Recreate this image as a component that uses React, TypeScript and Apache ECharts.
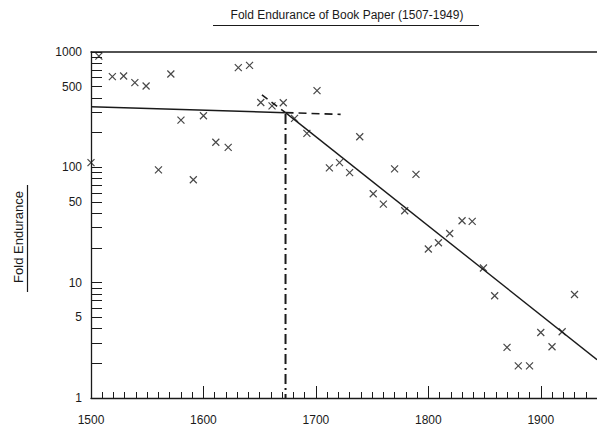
import React, { useEffect, useRef } from "react";
import * as echarts from "echarts";

const TITLE = "Fold Endurance of Book Paper (1507-1949)";
const Y_NAME = "Fold Endurance";

const X_LABELS = [1500, 1600, 1700, 1800, 1900];
const X_MAJOR_TICKS = [1500, 1600, 1700, 1800, 1900];
const X_MINOR_TICKS = [
  1510, 1520, 1530, 1540, 1550, 1560, 1570, 1580, 1590,
  1610, 1620, 1630, 1640, 1650, 1660, 1670, 1680, 1690,
  1710, 1720, 1730, 1740, 1750, 1760, 1770, 1780, 1790,
  1810, 1820, 1830, 1840, 1850, 1860, 1870, 1880, 1890,
  1910, 1920, 1930, 1940,
];
const Y_LABELS = [1, 5, 10, 50, 100, 500, 1000];
const Y_TICKS = [
  1, 2, 3, 4, 5, 6, 7, 8, 9,
  10, 20, 30, 40, 50, 60, 70, 80, 90,
  100, 200, 300, 400, 500, 600, 700, 800, 900, 1000,
];

// [year, fold endurance]
const SAMPLES: [number, number][] = [
  [1500, 110], [1507, 920], [1519, 611], [1529, 619], [1539, 542],
  [1549, 507], [1560, 95], [1571, 644], [1580, 257], [1591, 78],
  [1600, 280], [1611, 165], [1622, 149], [1631, 731], [1641, 766],
  [1651, 365], [1661, 341], [1671, 363], [1681, 266], [1692, 197],
  [1701, 462], [1712, 99], [1721, 110], [1730, 90], [1739, 184],
  [1751, 59], [1760, 48], [1770, 97], [1779, 42], [1789, 87],
  [1800, 19.6], [1809, 22.2], [1819, 26.7], [1830, 34.4], [1839, 34],
  [1849, 13.4], [1859, 7.7], [1870, 2.75], [1880, 1.9], [1890, 1.9],
  [1900, 3.7], [1910, 2.78], [1919, 3.75], [1930, 7.9],
];

const EARLY_TREND: [number, number][] = [[1500, 336], [1673, 298]];
const EARLY_EXTENSION: [number, number][] = [[1673, 298], [1722, 288]];
const LATE_EXTENSION: [number, number][] = [[1652, 424], [1673, 298]];
const LATE_TREND: [number, number][] = [[1673, 298], [1950, 2.15]];
const BREAK_LINE: [number, number][] = [[1673, 290], [1673, 1]];

const INK = "#1a1a1a";
const FONT = "Liberation Sans, Arial, sans-serif";

export default function App() {
  const ref = useRef<HTMLDivElement>(null);

  useEffect(() => {
    if (!ref.current) return;
    const chart = echarts.init(ref.current, undefined, { renderer: "svg" });
    const lineSeries = (data: [number, number][], type: any, width: number) => ({
      type: "line",
      data,
      xAxisIndex: 0,
      yAxisIndex: 0,
      symbol: "none",
      silent: true,
      lineStyle: { color: INK, width, type },
    });
    chart.setOption({
      animation: false,
      backgroundColor: "#fff",
      textStyle: { fontFamily: FONT, color: INK },
      grid: { left: 91, right: 0, top: 52, bottom: 32, containLabel: false },
      xAxis: [
        {
          type: "value",
          position: "bottom",
          min: 1500,
          max: 1950,
          interval: 50,
          axisLine: { show: true, lineStyle: { color: INK, width: 1.3 } },
          axisTick: {
            show: true,
            inside: true,
            length: 12,
            customValues: X_MAJOR_TICKS,
            lineStyle: { color: INK, width: 1 },
          },
          axisLabel: {
            customValues: X_LABELS,
            formatter: (v: number) => String(v),
            margin: 16,
            fontSize: 12,
            color: INK,
            fontFamily: FONT,
          },
          splitLine: { show: false },
        },
        {
          type: "value",
          position: "bottom",
          min: 1500,
          max: 1950,
          interval: 50,
          axisLine: { show: false },
          axisTick: {
            show: true,
            inside: true,
            length: 6,
            customValues: X_MINOR_TICKS,
            lineStyle: { color: INK, width: 1 },
          },
          axisLabel: { show: false },
          splitLine: { show: false },
        },
        {
          type: "value",
          position: "top",
          min: 1500,
          max: 1950,
          interval: 50,
          axisLine: { show: true, lineStyle: { color: INK, width: 1.5 } },
          axisTick: { show: false },
          axisLabel: { show: false },
          splitLine: { show: false },
        },
      ],
      yAxis: [
        {
          type: "log",
          min: 1,
          max: 1000,
          logBase: 10,
          show: false,
          splitLine: { show: false },
        },
        {
          type: "value",
          position: "left",
          min: 0,
          max: 3,
          interval: 1,
          axisLine: { show: true, lineStyle: { color: INK, width: 1.3 } },
          axisTick: {
            show: true,
            inside: true,
            length: 11,
            customValues: Y_TICKS.map((v) => Math.log10(v)),
            lineStyle: { color: INK, width: 1 },
          },
          axisLabel: {
            customValues: Y_LABELS.map((v) => Math.log10(v)),
            formatter: (v: number) => String(Math.round(Math.pow(10, v))),
            margin: 9,
            fontSize: 12,
            color: INK,
            fontFamily: FONT,
          },
          splitLine: { show: false },
        },
      ],
      graphic: [
        {
          type: "text",
          x: 347,
          y: 15,
          style: {
            text: TITLE,
            fontSize: 12,
            fontFamily: FONT,
            fill: INK,
            align: "center",
            verticalAlign: "middle",
          },
        },
        {
          type: "line",
          shape: { x1: 213, y1: 25.5, x2: 479, y2: 25.5 },
          style: { stroke: INK, lineWidth: 1.2 },
        },
        {
          type: "text",
          x: 18,
          y: 237,
          rotation: Math.PI / 2,
          style: {
            text: Y_NAME,
            fontSize: 13,
            fontFamily: FONT,
            fill: INK,
            align: "center",
            verticalAlign: "middle",
          },
        },
        {
          type: "line",
          shape: { x1: 27.5, y1: 185, x2: 27.5, y2: 292 },
          style: { stroke: INK, lineWidth: 1.2 },
        },
      ],
      series: [
        {
          type: "scatter",
          data: SAMPLES,
          xAxisIndex: 0,
          yAxisIndex: 0,
          symbol: "path://M0,0L10,10M10,0L0,10",
          symbolSize: 7,
          clip: false,
          itemStyle: { color: "rgba(0,0,0,0)", borderColor: INK, borderWidth: 1.2 },
        },
        lineSeries(EARLY_TREND, "solid", 1.5),
        lineSeries(EARLY_EXTENSION, [8, 5], 1.6),
        lineSeries(LATE_EXTENSION, [7, 5], 1.6),
        lineSeries(LATE_TREND, "solid", 1.4),
        lineSeries(BREAK_LINE, [10, 4, 2, 4], 2),
      ],
    });
    return () => chart.dispose();
  }, []);

  return (
    <div
      ref={ref}
      style={{ position: "fixed", left: 0, top: 0, width: 597, height: 430 }}
    />
  );
}
